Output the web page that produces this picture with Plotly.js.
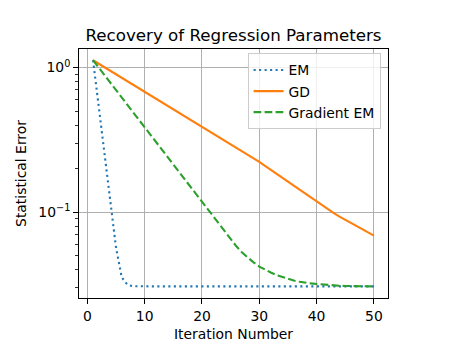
<!DOCTYPE html>
<html>
<head>
<meta charset="utf-8">
<script src="https://cdn.plot.ly/plotly-3.0.1.min.js"></script>
<style>html,body{margin:0;padding:0;background:#fff;}#chart{width:465px;height:348px;}</style>
</head>
<body>
<div id="chart"></div>
<script>
const iterations = [1,2,3,4,5,6,7,8,9,10,11,12,13,14,15,16,17,18,19,20,21,22,23,24,25,26,27,28,29,30,31,32,33,34,35,36,37,38,39,40,41,42,43,44,45,46,47,48,49,50];

const emError = [1.123,0.5256,0.2465,0.1153,0.0572,0.0355,0.0315,0.0308,0.0307,0.0307,
  0.0307,0.0307,0.0307,0.0307,0.0307,0.0307,0.0307,0.0307,0.0307,0.0307,
  0.0307,0.0307,0.0307,0.0307,0.0307,0.0307,0.0307,0.0307,0.0307,0.0307,
  0.0307,0.0307,0.0307,0.0307,0.0307,0.0307,0.0307,0.0307,0.0307,0.0307,
  0.0307,0.0307,0.0307,0.0307,0.0307,0.0307,0.0307,0.0307,0.0307,0.0307];

const gdError = [1.123,1.062,1.005,0.9512,0.9000,0.8516,0.8058,0.7625,0.7215,0.6827,
  0.6460,0.6112,0.5784,0.5473,0.5178,0.4900,0.4636,0.4387,0.4151,0.3928,
  0.3715,0.3513,0.3323,0.3146,0.2975,0.2807,0.2648,0.2500,0.2359,0.2226,
  0.2091,0.1964,0.1845,0.1732,0.1627,0.1526,0.1430,0.1341,0.1258,0.1180,
  0.1110,0.1045,0.0985,0.0932,0.0884,0.0840,0.0799,0.0760,0.0722,0.0688];

const gradEmError = [1.123,0.9972,0.8857,0.7867,0.6987,0.6206,0.5511,0.4895,0.4347,0.3861,
  0.3428,0.3045,0.2704,0.2402,0.2133,0.1894,0.1683,0.1494,0.1327,0.1179,
  0.1047,0.0930,0.0826,0.0733,0.0651,0.0581,0.0526,0.0484,0.0450,0.0421,
  0.0400,0.0383,0.0368,0.0356,0.0346,0.0337,0.0331,0.0325,0.0322,0.0319,
  0.0316,0.0314,0.0311,0.0310,0.0309,0.0308,0.0307,0.0307,0.0307,0.0307];

const seriesNames = ["EM", "GD", "Gradient EM"];
const xTickVals = [0,10,20,30,40,50];
const yTickVals = [0.1, 1];
const yTickText = ["10<sup>\u22121</sup>", "10<sup>0</sup>"];
const yMinorVals = [0.03,0.04,0.05,0.06,0.07,0.08,0.09,0.2,0.3,0.4,0.5,0.6,0.7,0.8,0.9];

const FONT = "DejaVu Sans, Liberation Sans, sans-serif";
const fs = 13.9;

const traces = [
  {x: iterations, y: emError, name: seriesNames[0], mode: "lines", legendgroup: "a",
   line: {color: "#1f77b4", width: 2.1, dash: "2.1px,3.4px"}},
  {x: iterations, y: gdError, name: seriesNames[1], mode: "lines", legendgroup: "b",
   line: {color: "#ff7f0e", width: 2.1}},
  {x: iterations, y: gradEmError, name: seriesNames[2], mode: "lines", legendgroup: "c",
   line: {color: "#2ca02c", width: 2.1, dash: "7.7px,3.3px"}}
];

const layout = {
  width: 465, height: 348,
  margin: {l: 79, r: 77, t: 49, b: 50, pad: 0},
  paper_bgcolor: "#ffffff", plot_bgcolor: "#ffffff",
  font: {family: FONT, size: fs, color: "#000000"},
  title: {text: "Recovery of Regression Parameters", font: {family: FONT, size: 16.7, color: "#000"},
          x: 0.5, xref: "paper", xanchor: "center", y: 1, yref: "paper", yanchor: "bottom", pad: {b: 8}},
  showlegend: true,
  legend: {x: 0.976, xanchor: "right", y: 0.982, yanchor: "top",
           bgcolor: "rgba(255,255,255,0.8)", bordercolor: "#cccccc", borderwidth: 1,
           font: {family: FONT, size: fs, color: "#000"}, tracegroupgap: 0, itemwidth: 30},
  xaxis: {range: [-1.45, 52.45], tickmode: "array", tickvals: xTickVals,
          ticks: "outside", ticklen: 4.9, tickwidth: 1, tickcolor: "#000",
          showgrid: true, gridcolor: "#b0b0b0", gridwidth: 1, zeroline: false,
          showline: true, mirror: true, linecolor: "#000", linewidth: 1,
          tickfont: {family: FONT, size: fs, color: "#000"},
          title: {text: "Iteration Number", font: {family: FONT, size: fs, color: "#000"}, standoff: 6}},
  yaxis: {type: "log", range: [-1.593, 0.128], tickmode: "array", tickvals: yTickVals, ticktext: yTickText,
          ticks: "outside", ticklen: 4.9, tickwidth: 1, tickcolor: "#000",
          showgrid: true, gridcolor: "#b0b0b0", gridwidth: 1, zeroline: false,
          showline: true, mirror: true, linecolor: "#000", linewidth: 1,
          tickfont: {family: FONT, size: fs, color: "#000"},
          minor: {tickmode: "array", tickvals: yMinorVals, ticks: "outside", ticklen: 2.8, tickwidth: 0.8, tickcolor: "#000", showgrid: false},
          title: {text: "Statistical Error", font: {family: FONT, size: fs, color: "#000"}, standoff: 8}}
};

Plotly.newPlot("chart", traces, layout, {staticPlot: true, displayModeBar: false});
</script>
</body>
</html>
